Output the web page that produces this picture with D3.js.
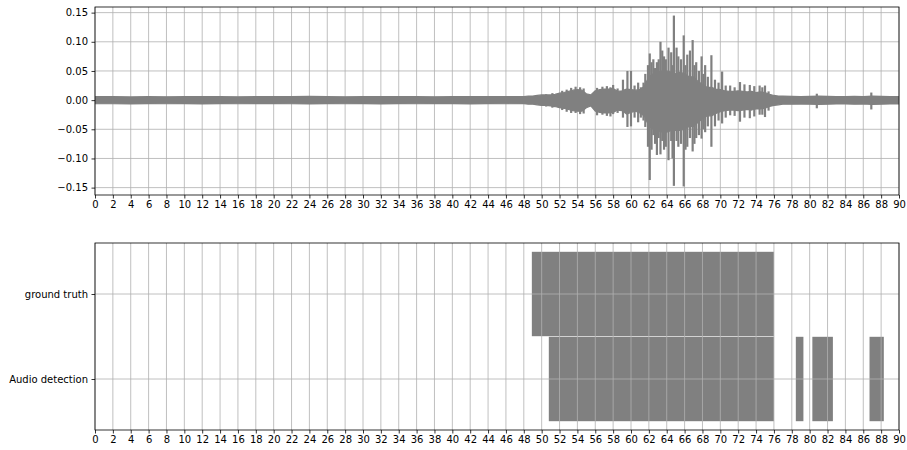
<!DOCTYPE html>
<html>
<head>
<meta charset="utf-8">
<script src="https://cdn.jsdelivr.net/npm/d3@7"></script>
<style>
  html, body { margin: 0; padding: 0; background: #fff; }
  svg text { font-family: "DejaVu Sans", sans-serif; font-size: 10px; fill: #000; }
</style>
</head>
<body>
<svg id="chart" width="907" height="450"></svg>
<script>
// ---- signal envelope (seconds, upper, lower) ----
const envTime = [0, 2, 4, 6, 8, 10, 12, 14, 16, 18, 20, 22, 24, 26, 28, 30, 32, 34, 36, 38, 40, 42, 44, 46,
  48, 48.5, 49, 49.5, 50, 50.5, 51, 51.5, 52, 52.5, 53, 53.5, 54, 54.5, 55, 55.5, 56, 56.5, 57, 57.5,
  58, 58.5, 59, 59.5, 60, 60.5, 61, 61.5, 62, 62.5, 63, 63.5, 64, 64.5, 65, 65.5, 66, 66.5, 67, 67.5,
  68, 68.5, 69, 69.5, 70, 70.5, 71, 71.5, 72, 72.5, 73, 73.5, 74, 74.5, 75, 75.5, 76, 76.5, 77,
  78, 79, 80, 81, 82, 83, 84, 85, 86, 87, 88, 89, 90];
const envUpper = [0.006, 0.006, 0.0055, 0.006, 0.0058, 0.006, 0.0062, 0.006, 0.0058, 0.006, 0.0062, 0.006, 0.0065, 0.006, 0.0058, 0.006, 0.006, 0.0062, 0.006, 0.0058, 0.006, 0.0062, 0.006, 0.006,
  0.006, 0.007, 0.007, 0.008, 0.009, 0.009, 0.009, 0.010, 0.012, 0.013, 0.015, 0.017, 0.018, 0.017, 0.011, 0.009, 0.016, 0.018, 0.019, 0.019,
  0.020, 0.015, 0.016, 0.019, 0.018, 0.017, 0.018, 0.024, 0.040, 0.045, 0.048, 0.050, 0.050, 0.048, 0.045, 0.048, 0.045, 0.040, 0.040, 0.032,
  0.027, 0.022, 0.022, 0.019, 0.018, 0.016, 0.015, 0.015, 0.016, 0.015, 0.014, 0.015, 0.013, 0.014, 0.013, 0.010, 0.008, 0.007, 0.007,
  0.0065, 0.006, 0.0065, 0.007, 0.0065, 0.006, 0.006, 0.0065, 0.006, 0.007, 0.0065, 0.006, 0.006];
const envLower = [-0.006, -0.0062, -0.0065, -0.006, -0.0062, -0.006, -0.0065, -0.006, -0.0062, -0.006, -0.006, -0.0062, -0.0065, -0.006, -0.0062, -0.006, -0.0065, -0.006, -0.0062, -0.006, -0.006, -0.0065, -0.006, -0.0062,
  -0.006, -0.007, -0.007, -0.008, -0.009, -0.009, -0.010, -0.011, -0.013, -0.014, -0.016, -0.018, -0.019, -0.019, -0.013, -0.010, -0.019, -0.021, -0.022, -0.022,
  -0.021, -0.017, -0.018, -0.024, -0.021, -0.019, -0.022, -0.027, -0.045, -0.050, -0.052, -0.055, -0.055, -0.052, -0.052, -0.052, -0.050, -0.045, -0.045, -0.038,
  -0.032, -0.027, -0.027, -0.023, -0.020, -0.018, -0.017, -0.017, -0.018, -0.017, -0.016, -0.017, -0.015, -0.015, -0.014, -0.011, -0.009, -0.008, -0.007,
  -0.007, -0.0065, -0.007, -0.0075, -0.007, -0.0065, -0.0065, -0.007, -0.0065, -0.0075, -0.007, -0.0065, -0.0065];

// ---- individual oscillation peaks (seconds, upper, lower) ----
const peakTime  = [50.5, 51.2, 52.3, 52.8, 53.3, 53.8, 54.3, 54.7, 56.2, 56.8, 57.3, 57.7, 58.0, 58.5, 59.1, 59.6, 60.0,
  60.4, 60.8, 61.1, 61.4, 61.6, 61.9, 62.1, 62.3, 62.5, 62.7, 62.9, 63.1, 63.3, 63.5, 63.7, 63.9, 64.2, 64.5, 64.65, 64.8,
  65.1, 65.3, 65.6, 65.9, 66.1, 66.3, 66.6, 66.9, 67.1, 67.3, 67.6, 67.9, 68.1, 68.3, 68.6, 69.0, 69.4, 69.8, 70.2, 70.6,
  71.1, 71.6, 72.2, 72.7, 73.3, 73.8, 74.4, 74.7, 75.0, 75.4, 80.8, 86.9];
const peakUpper = [0.010, 0.012, 0.016, 0.018, 0.021, 0.023, 0.022, 0.020, 0.021, 0.023, 0.024, 0.022, 0.026, 0.020, 0.035, 0.050, 0.050,
  0.025, 0.030, 0.022, 0.030, 0.045, 0.060, 0.080, 0.065, 0.070, 0.055, 0.065, 0.070, 0.100, 0.085, 0.075, 0.070, 0.090, 0.082, 0.060, 0.145,
  0.090, 0.075, 0.070, 0.111, 0.060, 0.078, 0.085, 0.103, 0.060, 0.065, 0.050, 0.075, 0.045, 0.060, 0.040, 0.077, 0.035, 0.030, 0.049, 0.025,
  0.025, 0.022, 0.031, 0.027, 0.026, 0.024, 0.025, 0.022, 0.025, 0.015, 0.011, 0.013];
const peakLower = [-0.011, -0.013, -0.017, -0.020, -0.022, -0.022, -0.024, -0.023, -0.026, -0.025, -0.027, -0.028, -0.024, -0.022, -0.030, -0.046, -0.045,
  -0.030, -0.038, -0.030, -0.035, -0.046, -0.080, -0.137, -0.085, -0.060, -0.075, -0.094, -0.065, -0.093, -0.070, -0.085, -0.080, -0.103, -0.070, -0.100, -0.147,
  -0.070, -0.080, -0.075, -0.148, -0.085, -0.080, -0.065, -0.088, -0.075, -0.065, -0.060, -0.066, -0.050, -0.055, -0.045, -0.080, -0.045, -0.035, -0.040, -0.030,
  -0.026, -0.027, -0.037, -0.030, -0.031, -0.028, -0.025, -0.025, -0.029, -0.018, -0.014, -0.016];

// ---- event intervals (seconds) ----
const rowLabels = ["Audio detection", "ground truth"];
const truthStart = [48.9];
const truthEnd   = [76.0];
const detectStart = [50.8, 78.45, 80.3, 86.7];
const detectEnd   = [76.0, 79.3, 82.6, 88.3];

const xTicks = d3.range(0, 91, 2);
const yTicksTop = [-0.15, -0.10, -0.05, 0.00, 0.05, 0.10, 0.15];

// ---- layout ----
const left = 95, right = 899;
const top1 = 7, bottom1 = 195;
const top2 = 243, bottom2 = 430;
const grey = "#808080", gridCol = "#b0b0b0";

const svg = d3.select("#chart");
const x = d3.scaleLinear().domain([0, 90]).range([left, right]);

// y-range of the signal with 5% padding
const yMax = d3.max([...envUpper, ...peakUpper]);
const yMin = d3.min([...envLower, ...peakLower]);
const pad = (yMax - yMin) * 0.05;
const y1 = d3.scaleLinear().domain([yMin - pad, yMax + pad]).range([bottom1, top1]);

const y2 = d3.scaleLinear().domain([-0.6, 1.6]).range([bottom2, top2]);

function grid(g, yScale, yVals, yTop, yBot) {
  g.selectAll("line.vx").data(xTicks).join("line")
    .attr("x1", d => x(d)).attr("x2", d => x(d))
    .attr("y1", yTop).attr("y2", yBot)
    .attr("stroke", gridCol).attr("stroke-width", 0.8);
  g.selectAll("line.hy").data(yVals).join("line").attr("class", "hy")
    .attr("x1", left).attr("x2", right)
    .attr("y1", d => yScale(d)).attr("y2", d => yScale(d))
    .attr("stroke", gridCol).attr("stroke-width", 0.8);
}

function styleAxis(g) {
  g.select(".domain").remove();
  g.selectAll(".tick line").attr("stroke", "#000").attr("stroke-width", 0.8);
  g.selectAll(".tick text").attr("fill", "#000").style("font-size", "10px");
}

function frame(yTop, yBot) {
  svg.append("rect")
    .attr("x", left).attr("y", yTop)
    .attr("width", right - left).attr("height", yBot - yTop)
    .attr("fill", "none").attr("stroke", "#000").attr("stroke-width", 0.8);
}

// ===== top panel: waveform =====
const gGrid1 = svg.append("g");
grid(gGrid1, y1, yTicksTop, top1, bottom1);

svg.append("clipPath").attr("id", "clip1")
  .append("rect").attr("x", left).attr("y", top1).attr("width", right - left).attr("height", bottom1 - top1);

const wave = svg.append("g").attr("clip-path", "url(#clip1)");
const envData = envTime.map((t, i) => ({ t, hi: envUpper[i], lo: envLower[i] }));
const area = d3.area().x(d => x(d.t)).y0(d => y1(d.lo)).y1(d => y1(d.hi));
wave.append("path").datum(envData)
  .attr("d", area).attr("fill", grey)
  .attr("stroke", grey).attr("stroke-width", 1.2).attr("stroke-linejoin", "round");

const peaks = peakTime.map((t, i) => ({ t, hi: peakUpper[i], lo: peakLower[i] }));
wave.selectAll("line.peak").data(peaks).join("line").attr("class", "peak")
  .attr("x1", d => x(d.t)).attr("x2", d => x(d.t))
  .attr("y1", d => y1(d.lo)).attr("y2", d => y1(d.hi))
  .attr("stroke", grey).attr("stroke-width", 2.2);

frame(top1, bottom1);

const ax1x = svg.append("g").attr("transform", `translate(0,${bottom1})`)
  .call(d3.axisBottom(x).tickValues(xTicks).tickFormat(d3.format("d")).tickSize(3.5).tickPadding(2.5));
styleAxis(ax1x);
const ax1y = svg.append("g").attr("transform", `translate(${left},0)`)
  .call(d3.axisLeft(y1).tickValues(yTicksTop).tickFormat(d3.format(".2f")).tickSize(3.5).tickPadding(3.5));
styleAxis(ax1y);

// ===== bottom panel: event intervals =====
const bars = svg.append("g");
const rows = [
  { row: 1, starts: truthStart, ends: truthEnd },
  { row: 0, starts: detectStart, ends: detectEnd }
];
rows.forEach(r => {
  const segs = r.starts.map((s, i) => ({ s, e: r.ends[i], row: r.row }));
  bars.selectAll(null).data(segs).join("rect")
    .attr("x", d => x(d.s))
    .attr("width", d => x(d.e) - x(d.s))
    .attr("y", d => y2(d.row + 0.5) + 0.3)
    .attr("height", d => y2(d.row - 0.5) - y2(d.row + 0.5) - 0.6)
    .attr("fill", grey);
});

const gGrid2 = svg.append("g");
grid(gGrid2, y2, [0, 1], top2, bottom2);

frame(top2, bottom2);

const ax2x = svg.append("g").attr("transform", `translate(0,${bottom2})`)
  .call(d3.axisBottom(x).tickValues(xTicks).tickFormat(d3.format("d")).tickSize(3.5).tickPadding(2.5));
styleAxis(ax2x);
const ax2y = svg.append("g").attr("transform", `translate(${left},0)`)
  .call(d3.axisLeft(y2).tickValues([0, 1]).tickFormat(d => rowLabels[d]).tickSize(3.5).tickPadding(3.5));
styleAxis(ax2y);
</script>
</body>
</html>
